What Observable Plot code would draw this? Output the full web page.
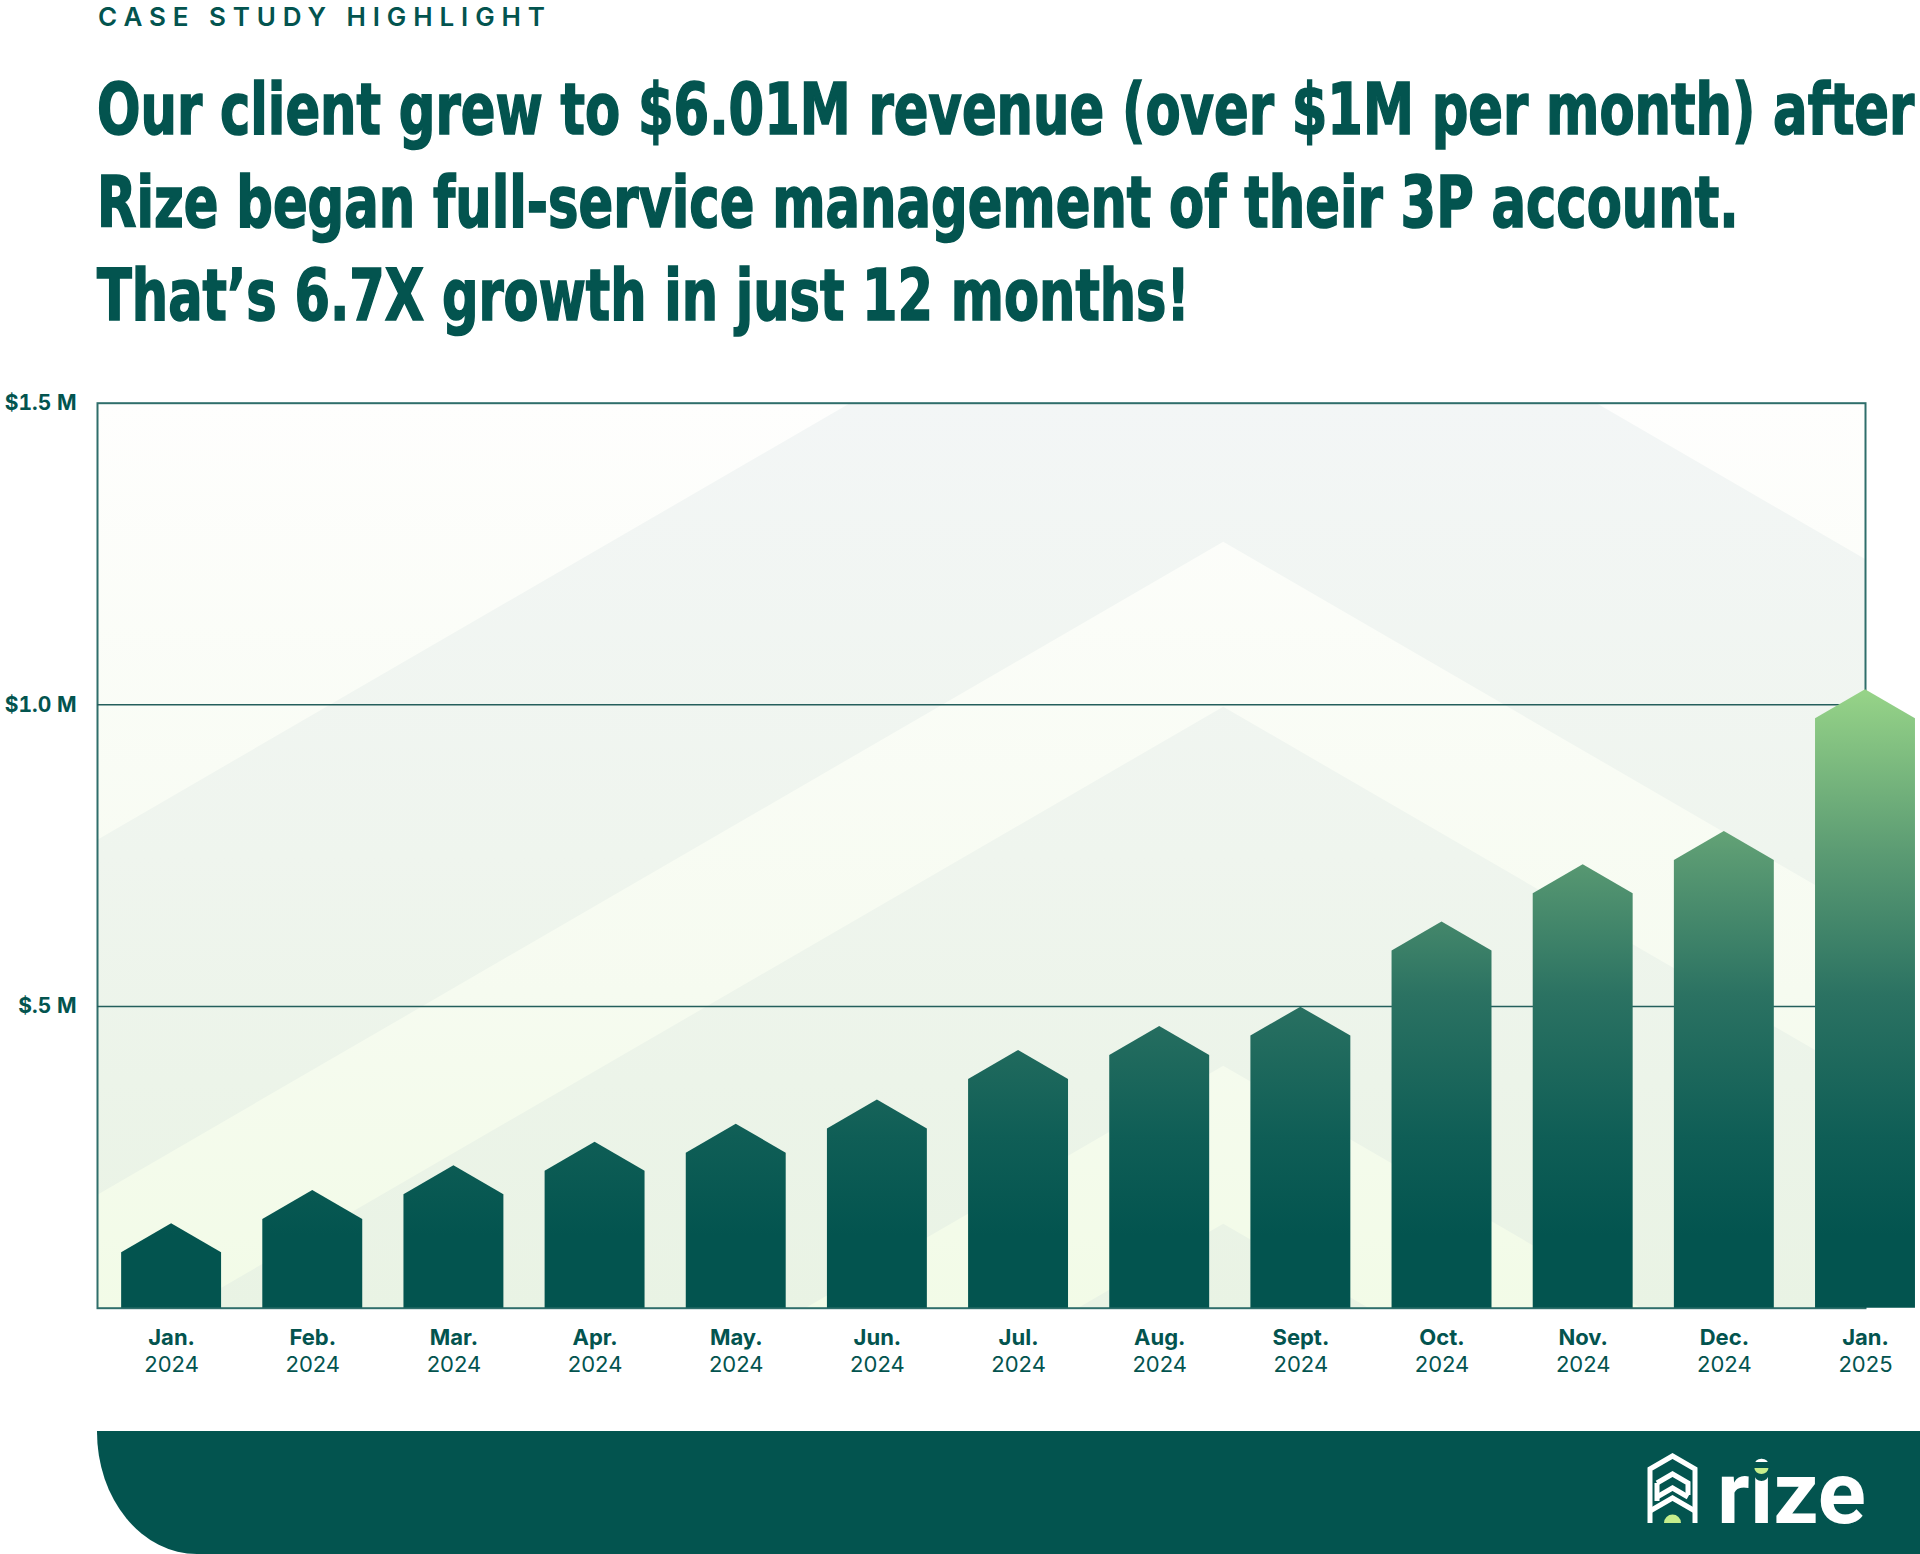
<!DOCTYPE html>
<html>
<head>
<meta charset="utf-8">
<script src="https://cdn.jsdelivr.net/npm/d3@7"></script>
<script src="https://cdn.jsdelivr.net/npm/@observablehq/plot@0.6"></script>
<style>
  html, body { margin: 0; padding: 0; background: #ffffff; }
  #page { position: relative; width: 1920px; height: 1554px; overflow: hidden; background: #ffffff; }
  #header { position: absolute; left: 0; top: 0; }
  #chart { position: absolute; left: 0; top: 340px; }
  #banner { position: absolute; left: 97px; top: 1431px; width: 1823px; height: 123px;
            background: #03544f; border-bottom-left-radius: 100px 122px; }
  #logo { position: absolute; left: 1600px; top: 1431px; }
</style>
</head>
<body>
<div id="page">
  <svg id="header" width="1920" height="340" xmlns="http://www.w3.org/2000/svg">
    <text x="98" y="26" font-family="Inter, 'Noto Sans', sans-serif" font-size="26" font-weight="600"
          fill="#03544f" textLength="447" lengthAdjust="spacing">CASE STUDY HIGHLIGHT</text>
    <g id="titleLines" font-family="'Liberation Sans Narrow', 'DejaVu Sans Condensed', 'Roboto Condensed', Roboto, sans-serif"
       font-size="72" font-weight="700" fill="#03544f" stroke="#03544f" stroke-width="1.6">
      <text data-y="134">Our client grew to $6.01M revenue (over $1M per month) after</text>
      <text data-y="227" data-w="1642">Rize began full-service management of their 3P account.</text>
      <text data-y="320" data-w="1093">That’s 6.7X growth in just 12 months!</text>
    </g>
  </svg>
  <div id="chart"></div>
  <div id="banner"></div>
  <svg id="logo" width="320" height="123" xmlns="http://www.w3.org/2000/svg">
    <g fill="none" stroke="#ffffff" stroke-width="5" stroke-linejoin="miter">
      <polyline points="50,92 50,38 72.5,25 95,38 95,92"/>
      <polyline points="57,52 72.5,43 88,52 88,64"/>
      <polyline points="57,66 72.5,57 88,66"/>
      <polyline points="50,80 72.5,67 95,80"/>
      <polyline points="57,52 57,70"/>
    </g>
    <path d="M64,92 A8.5,8.5 0 0 1 81,92 Z" fill="#c6ee8c"/>
    <text id="logoText" x="117" y="92" font-family="Roboto, Inter, sans-serif" font-size="88" font-weight="700"
          fill="#ffffff" textLength="149" lengthAdjust="spacingAndGlyphs">rize</text>
  </svg>
</div>
<script>
// ---------------- data ----------------
const months = ["Jan.", "Feb.", "Mar.", "Apr.", "May.", "Jun.", "Jul.", "Aug.", "Sept.", "Oct.", "Nov.", "Dec.", "Jan."];
const years = ["2024", "2024", "2024", "2024", "2024", "2024", "2024", "2024", "2024", "2024", "2024", "2024", "2025"];
const revenue = [0.140, 0.195, 0.236, 0.275, 0.305, 0.345, 0.427, 0.467, 0.499, 0.640, 0.735, 0.790, 1.025]; // $M
const yTicks = [0.5, 1.0, 1.5];
const yTickLabels = ["$.5 M", "$1.0 M", "$1.5 M"];
const gridValues = [0.5, 1.0];

// ---------------- title fitting (horizontal scale) ----------------
(function fitTitles() {
  const lines = Array.from(document.querySelectorAll("#titleLines text"));
  const nat = lines.map(t => t.getComputedTextLength());
  const k2 = 1642 / nat[1];
  lines.forEach((t, j) => {
    let target = t.dataset.w ? +t.dataset.w : Math.min(nat[j] * k2, 1818);
    const k = target / nat[j];
    t.setAttribute("x", 0);
    t.setAttribute("y", 0);
    t.setAttribute("transform", `translate(97,${t.dataset.y}) scale(${k},1)`);
  });
})();

// ---------------- shape helpers ----------------
const idx = d3.range(months.length);
const halfWidth = 0.354;  // half bar width, in month units
const headHeight = 0.048; // arrow head height, in $M
const barPoints = idx.flatMap(i => [
  {i, x: i - halfWidth, y: revenue[i] - headHeight},
  {i, x: i, y: revenue[i]},
  {i, x: i + halfWidth, y: revenue[i] - headHeight}
]);

const teal = "#03544f";

const chart = Plot.plot({
  width: 1920,
  height: 1060,
  marginLeft: 97,
  marginRight: 55,
  marginTop: 62.7,
  marginBottom: 92.3,
  style: {
    fontFamily: "Inter, 'Noto Sans', sans-serif",
    fontSize: "21px",
    fontWeight: 700,
    color: teal,
    background: "transparent",
    overflow: "visible"
  },
  x: {domain: [-0.525, 12], axis: null},
  y: {
    domain: [0, 1.5],
    ticks: yTicks,
    tickFormat: d => yTickLabels[yTicks.indexOf(d)],
    tickSize: 0,
    tickPadding: 21,
    label: null
  },
  marks: [
    Plot.frame({stroke: "#2f6e6b", strokeWidth: 2}),
    Plot.ruleY(gridValues, {stroke: "#245f5c", strokeWidth: 1.5}),
    Plot.areaY(barPoints, {x: "x", y: "y", z: "i", fill: "url(#barGrad)", curve: "linear"}),
    Plot.text(idx, {x: d => d, text: i => months[i], frameAnchor: "bottom", dy: 37, fontSize: 22, fontWeight: 700, fill: teal}),
    Plot.text(idx, {x: d => d, text: i => years[i], frameAnchor: "bottom", dy: 64, fontSize: 22, fontWeight: 400, fill: teal})
  ]
});
document.getElementById("chart").appendChild(chart);

// ---------------- decoration: gradients and background chevrons ----------------
const ys = chart.scale("y");
const fx0 = 97, fx1 = 1920 - 55;
const fy0 = ys.apply(1.5), fy1 = ys.apply(0);
const root = d3.select(chart);
const defs = root.insert("defs", ":first-child");

const barG = defs.append("linearGradient").attr("id", "barGrad")
  .attr("gradientUnits", "userSpaceOnUse")
  .attr("x1", 0).attr("x2", 0)
  .attr("y1", ys.apply(1.025)).attr("y2", ys.apply(0.12));
[[0, "#97d488"], [0.3, "#5b9b73"], [0.56, "#2b7262"], [0.82, "#0f5e56"], [1, "#03544f"]]
  .forEach(([o, c]) => barG.append("stop").attr("offset", o).attr("stop-color", c));

function vGrad(id, stops) {
  const g = defs.append("linearGradient").attr("id", id)
    .attr("gradientUnits", "userSpaceOnUse")
    .attr("x1", 0).attr("x2", 0).attr("y1", fy0).attr("y2", fy1);
  stops.forEach(([o, c]) => g.append("stop").attr("offset", o).attr("stop-color", c));
}
vGrad("lightGrad", [[0, "#fefefd"], [0.65, "#f6fbf0"], [1, "#f2fbe7"]]);
vGrad("darkGrad", [[0, "#f3f6f6"], [0.5, "#eff5ee"], [1, "#e9f3e4"]]);

defs.append("clipPath").attr("id", "frameClip")
  .append("rect").attr("x", fx0).attr("y", fy0).attr("width", fx1 - fx0).attr("height", fy1 - fy0);

const bg = root.insert("g", "g").attr("clip-path", "url(#frameClip)");
bg.append("rect").attr("x", fx0).attr("y", fy0).attr("width", fx1 - fx0).attr("height", fy1 - fy0)
  .attr("fill", "url(#lightGrad)");
const apexX = fx0 + 0.637 * (fx1 - fx0);
const apexOffsets = [-216, 139, 304, 663, 821];
const slope = 0.58, W = 2200;
apexOffsets.forEach((off, k) => {
  const ay = fy0 + off;
  const pts = [
    [apexX - W, ay + slope * W], [apexX, ay], [apexX + W, ay + slope * W],
    [apexX + W, fy1 + 3000], [apexX - W, fy1 + 3000]
  ];
  bg.append("polygon").attr("points", pts.map(p => p.join(",")).join(" "))
    .attr("fill", k % 2 === 0 ? "url(#darkGrad)" : "url(#lightGrad)");
});

// lime dot on the logo's i
const lt = document.getElementById("logoText");
try {
  const s = lt.getStartPositionOfChar(1), e = lt.getEndPositionOfChar(1);
  const cx = (s.x + e.x) / 2;
  d3.select("#logo").append("path")
    .attr("d", `M${cx - 7},44 A7,6 0 0 0 ${cx + 7},44 L${cx + 8},31 L${cx - 8},31 Z`)
    .attr("fill", "#03544f");
  d3.select("#logo").append("path")
    .attr("d", `M${cx - 7},37 A7,6 0 0 0 ${cx + 7},37 Z`)
    .attr("fill", "#c6ee8c");
} catch (err) {}
</script>
</body>
</html>
